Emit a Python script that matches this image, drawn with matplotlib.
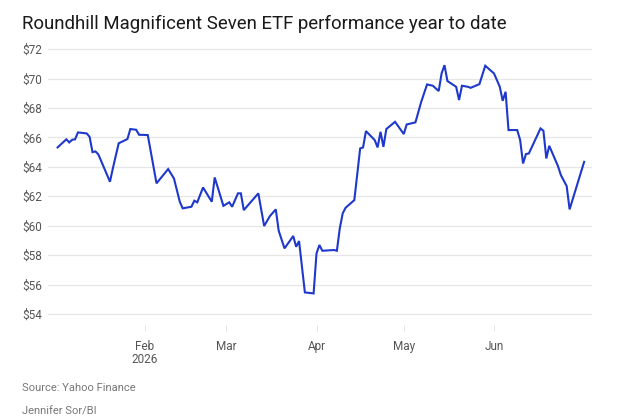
import matplotlib
matplotlib.use("Agg")
import matplotlib.pyplot as plt
import matplotlib.dates as mdates
import numpy as np
from datetime import datetime, timedelta

# closing prices
dates = [
    "2026-01-02", "2026-01-05", "2026-01-06", "2026-01-07", "2026-01-08", "2026-01-09",
    "2026-01-12", "2026-01-13", "2026-01-14", "2026-01-15", "2026-01-16", "2026-01-20",
    "2026-01-21", "2026-01-23", "2026-01-26", "2026-01-27", "2026-01-29", "2026-01-30",
    "2026-02-02", "2026-02-05", "2026-02-09", "2026-02-11", "2026-02-13", "2026-02-14",
    "2026-02-17", "2026-02-18", "2026-02-19", "2026-02-21", "2026-02-24", "2026-02-25",
    "2026-02-28", "2026-03-02", "2026-03-03", "2026-03-05", "2026-03-06", "2026-03-07",
    "2026-03-12", "2026-03-14", "2026-03-16", "2026-03-18", "2026-03-19", "2026-03-21",
    "2026-03-24", "2026-03-25", "2026-03-26", "2026-03-28", "2026-03-31", "2026-04-01",
    "2026-04-02", "2026-04-03", "2026-04-07", "2026-04-08", "2026-04-09", "2026-04-10",
    "2026-04-11", "2026-04-14", "2026-04-16", "2026-04-17", "2026-04-18", "2026-04-21",
    "2026-04-22", "2026-04-23", "2026-04-24", "2026-04-25", "2026-04-28", "2026-05-01",
    "2026-05-02", "2026-05-05", "2026-05-07", "2026-05-09", "2026-05-11", "2026-05-13",
    "2026-05-14", "2026-05-15", "2026-05-16", "2026-05-19", "2026-05-20", "2026-05-21",
    "2026-05-23", "2026-05-24", "2026-05-27", "2026-05-29", "2026-06-01", "2026-06-02",
    "2026-06-03", "2026-06-04", "2026-06-05", "2026-06-06", "2026-06-09", "2026-06-10",
    "2026-06-11", "2026-06-12", "2026-06-13", "2026-06-17", "2026-06-18", "2026-06-19",
    "2026-06-20", "2026-06-23", "2026-06-24", "2026-06-26", "2026-06-27", "2026-07-02",
]
prices = [
    65.32, 65.87, 65.66, 65.84, 65.87, 66.34,
    66.27, 66.04, 65.00, 65.05, 64.85, 62.99,
    63.90, 65.60, 65.89, 66.57, 66.52, 66.18,
    66.16, 62.88, 63.85, 63.21, 61.63, 61.18,
    61.29, 61.70, 61.59, 62.60, 61.63, 63.28,
    61.35, 61.59, 61.29, 62.20, 62.20, 61.06,
    62.20, 59.98, 60.66, 61.11, 59.66, 58.46,
    59.30, 58.57, 58.96, 55.47, 55.40, 58.12,
    58.69, 58.30, 58.35, 58.30, 59.82, 60.84,
    61.22, 61.74, 65.25, 65.32, 66.43, 65.82,
    65.32, 66.38, 65.36, 66.57, 67.06, 66.23,
    66.88, 67.02, 68.42, 69.60, 69.51, 69.15,
    70.35, 70.91, 69.83, 69.44, 68.54, 69.51,
    69.44, 69.37, 69.62, 70.87, 70.35, 69.90,
    69.44, 68.49, 69.10, 66.50, 66.50, 65.82,
    64.23, 64.87, 64.91, 66.61, 66.45, 64.57,
    65.43, 64.05, 63.44, 62.69, 61.11, 64.34,
]
yticks = [54, 56, 58, 60, 62, 64, 66, 68, 70, 72]
xlabels = ["Feb\n2026", "Mar", "Apr", "May", "Jun"]
title = "Roundhill Magnificent Seven ETF performance year to date"
source = "Source: Yahoo Finance"
credit = "Jennifer Sor/BI"


def main():
    plt.rcParams['font.family'] = ['Roboto', 'DejaVu Sans']
    x = [datetime.strptime(d, "%Y-%m-%d") for d in dates]

    fig = plt.figure(figsize=(6.4, 4.2), dpi=100)
    ax = fig.add_axes((0.075, 0.226, 0.85, 0.662))

    ax.plot(x, prices, color='#1f38cc', lw=1.5, solid_joinstyle='miter')

    ax.set_ylim(53.25, 72.14)
    ax.set_yticks(yticks, labels=[f"${t}" for t in yticks])
    ax.set_xlim(x[0] - timedelta(days=3.3), x[-1] + timedelta(days=2.7))
    ax.xaxis.set_major_locator(mdates.MonthLocator(bymonth=[2, 3, 4, 5, 6]))
    ax.set_xticks(ax.get_xticks(), labels=xlabels)

    ax.grid(axis='y', color='#e6e6e6', lw=0.9)
    ax.set_axisbelow(True)
    for s in ax.spines.values():
        s.set_visible(False)
    ax.tick_params(axis='y', length=0, pad=0, labelsize=8.5, labelcolor='#555555')
    ax.tick_params(axis='x', length=4, width=0.6, color='#e0e0e0', pad=7,
                   labelsize=8.5, labelcolor='#555555')
    for lab in ax.get_yticklabels():
        lab.set_horizontalalignment('left')
        lab.set_x(-0.047)
    for lab in ax.get_xticklabels():
        lab.set_linespacing(1.0)

    fig.text(0.035, 0.942, title, fontsize=13.4, color='#1a1a1a', va='center')
    fig.text(0.035, 0.077, source, fontsize=8, color='#777777', va='center')
    fig.text(0.035, 0.021, credit, fontsize=8, color='#777777', va='center')

    fig.savefig('out.png', dpi=100, facecolor='white')


if __name__ == '__main__':
    main()
